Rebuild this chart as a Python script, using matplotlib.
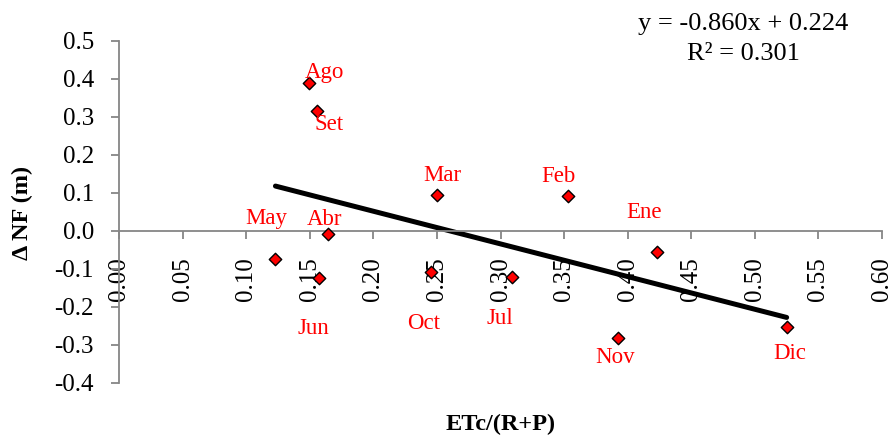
import numpy as np
import matplotlib
matplotlib.use("Agg")
import matplotlib.pyplot as plt
from matplotlib.ticker import FuncFormatter

plt.rcParams['font.family'] = ['Liberation Serif', 'DejaVu Serif']
plt.rcParams['axes.unicode_minus'] = False

# data
months = ["May", "Abr", "Jun", "Oct", "Mar", "Jul", "Feb", "Ene", "Nov", "Dic", "Ago", "Set"]
etc_ratio = [0.123, 0.164, 0.157, 0.245, 0.250, 0.309, 0.353, 0.423, 0.392, 0.525, 0.149, 0.156]
delta_nf = [-0.074, -0.009, -0.125, -0.108, 0.095, -0.121, 0.092, -0.054, -0.281, -0.253, 0.389, 0.316]
# label offsets (pixels) from each marker
label_dx = [-9, -3, -5, -7, 5, -12, -10, -13, -2, 3, 16, 12]
label_dy = [41, 15, -50, -51, 19, -42, 20, 39, -20, -26, 11, -14]

slope, intercept, r2 = -0.860, 0.224, 0.301

fig = plt.figure(figsize=(8.93, 4.37), dpi=100)
ax = fig.add_axes([0.1333, 0.1236, 0.8544, 0.7826])

x_fit = np.array([min(etc_ratio), max(etc_ratio)])
ax.plot(x_fit, slope * x_fit + intercept, color='black', lw=3.6, zorder=2,
        solid_capstyle='round')
ax.scatter(etc_ratio, delta_nf, marker='D', s=40, color='red',
           edgecolors='black', linewidths=1, zorder=3)

for m, x, y, dx, dy in zip(months, etc_ratio, delta_nf, label_dx, label_dy):
    ax.annotate(m, (x, y), xytext=(dx, dy), textcoords='offset pixels',
                ha='center', va='center', color='red', fontsize=16.5)

ax.set_xlim(0, 0.6)
ax.set_ylim(-0.4, 0.5)
ax.set_xticks(np.arange(0, 0.601, 0.05))
ax.set_yticks(np.arange(-0.4, 0.501, 0.1))
ax.xaxis.set_major_formatter(FuncFormatter(lambda v, _: f"{round(v, 3) + 0.0:.2f}"))
ax.yaxis.set_major_formatter(FuncFormatter(lambda v, _: f"{round(v, 3) + 0.0:.1f}"))

for s in ['top', 'right']:
    ax.spines[s].set_visible(False)
ax.spines['bottom'].set_position(('data', 0))
for s in ['left', 'bottom']:
    ax.spines[s].set_color('#868686')
    ax.spines[s].set_linewidth(1.3)

ax.tick_params(axis='x', direction='out', length=6, width=1.3, color='#868686',
               labelrotation=90, labelsize=18, pad=13)
ax.tick_params(axis='y', direction='out', length=6, width=1.3, color='#868686',
               labelsize=18, pad=12)
for lbl in ax.get_xticklabels():
    lbl.set_va('top')

fig.text(0.5605, 0.028, 'ETc/(R+P)', ha='center', va='center',
         fontsize=17.5, fontweight='bold')
fig.text(0.025, 0.512, '\u0394 NF (m)', ha='center', va='center',
         rotation=90, fontsize=17.5, fontweight='bold')

fig.text(0.832, 0.945, f'y = {slope:.3f}x + {intercept:.3f}', ha='center',
         va='center', fontsize=19)
fig.text(0.832, 0.877, f'R\u00b2 = {r2:.3f}', ha='center', va='center', fontsize=19)

fig.savefig('out.png', dpi=100)
